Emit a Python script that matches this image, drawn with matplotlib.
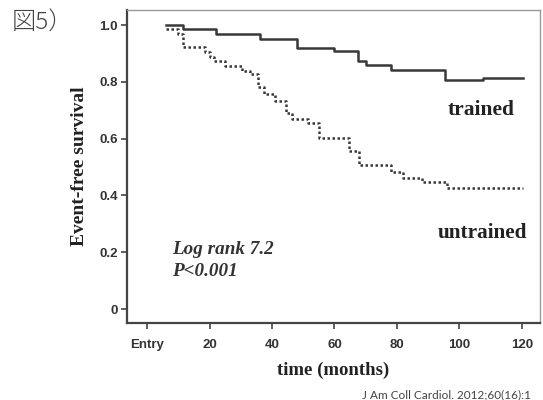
import matplotlib
matplotlib.use("Agg")
import matplotlib.pyplot as plt

# Kaplan-Meier steps (months, survival)
trained_t = [6, 11.5, 22, 36, 48, 60, 67.5, 70, 78, 95.5, 107.5, 120.5]
trained_s = [1.0, 0.985, 0.967, 0.951, 0.92, 0.908, 0.873, 0.859, 0.842, 0.806, 0.812, 0.812]

untrained_t = [6, 10, 11.5, 18.5, 20, 21.5, 25, 30.5, 33, 35.5, 37.5, 41, 44.5,
               46.5, 51.5, 55, 64.5, 68, 78, 82, 88, 96, 120.5]
untrained_s = [0.985, 0.967, 0.921, 0.906, 0.889, 0.874, 0.857, 0.838, 0.826, 0.783,
               0.758, 0.732, 0.689, 0.669, 0.654, 0.601, 0.557, 0.507, 0.481, 0.462,
               0.446, 0.427, 0.427]

x_ticks = [0, 20, 40, 60, 80, 100, 120]
x_labels = ["Entry", "20", "40", "60", "80", "100", "120"]
y_ticks = [0, 0.2, 0.4, 0.6, 0.8, 1.0]
y_labels = ["0", "0.2", "0.4", "0.6", "0.8", "1.0"]

SANS = ["Liberation Sans", "DejaVu Sans"]
SERIF = ["Liberation Serif", "DejaVu Serif"]


def main():
    fig = plt.figure(figsize=(5.43, 4.0), dpi=100)
    ax = fig.add_axes([0.234, 0.1925, 0.7605, 0.7825])

    ax.step(trained_t, trained_s, where="post", color="#383838", lw=1.8)
    ax.step(untrained_t, untrained_s, where="post", color="#383838", lw=1.8,
            linestyle=(0, (1, 1)))

    ax.set_xlim(-6.4, 125.8)
    ax.set_ylim(-0.049, 1.053)

    ax.set_xticks(x_ticks)
    ax.set_xticklabels(x_labels, family=SANS, fontweight="bold", fontsize=9.5, color="#333333")
    ax.set_yticks(y_ticks)
    ax.set_yticklabels(y_labels, family=SANS, fontweight="bold", fontsize=9.5, color="#333333")
    ax.tick_params(direction="out", length=4.5, width=1.2, color="#444444")
    ax.tick_params(axis="x", pad=7)
    ax.tick_params(axis="y", pad=2)

    for side in ["left", "bottom"]:
        ax.spines[side].set_color("#444444")
        ax.spines[side].set_linewidth(1.6)
    for side in ["top", "right"]:
        ax.spines[side].set_color("#999999")
        ax.spines[side].set_linewidth(1.0)

    ax.set_ylabel("Event-free survival", family=SERIF, fontweight="bold", fontsize=14,
                  color="#222222", labelpad=8)
    ax.set_xlabel("time (months)", family=SERIF, fontweight="bold", fontsize=13.5,
                  color="#222222", labelpad=8)

    ax.text(107, 0.70, "trained", family=SERIF, fontweight="bold", fontsize=15.5,
            color="#222222", ha="center", va="center")
    ax.text(107.5, 0.268, "untrained", family=SERIF, fontweight="bold", fontsize=15.3,
            color="#222222", ha="center", va="center")
    ax.text(8, 0.211, "Log rank 7.2", family=SERIF, fontweight="bold", style="italic",
            fontsize=13.8, color="#333333", ha="left", va="center")
    ax.text(8, 0.134, "P<0.001", family=SERIF, fontweight="bold", style="italic",
            fontsize=13.8, color="#333333", ha="left", va="center")

    fig.text(0.022, 0.943, "図5）", family=["Noto Sans CJK JP", "DejaVu Sans"],
             fontweight="light", fontsize=17.5, color="#444444", ha="left", va="center")
    # the source crop cuts the citation off at the right edge
    fig.text(0.666, 0.012, "J Am Coll Cardiol. 2012;60(16):1", family=["Lato", "DejaVu Sans"],
             fontsize=8.5, color="#444444", ha="left", va="center")

    fig.savefig("out.png", dpi=100)


if __name__ == "__main__":
    main()
